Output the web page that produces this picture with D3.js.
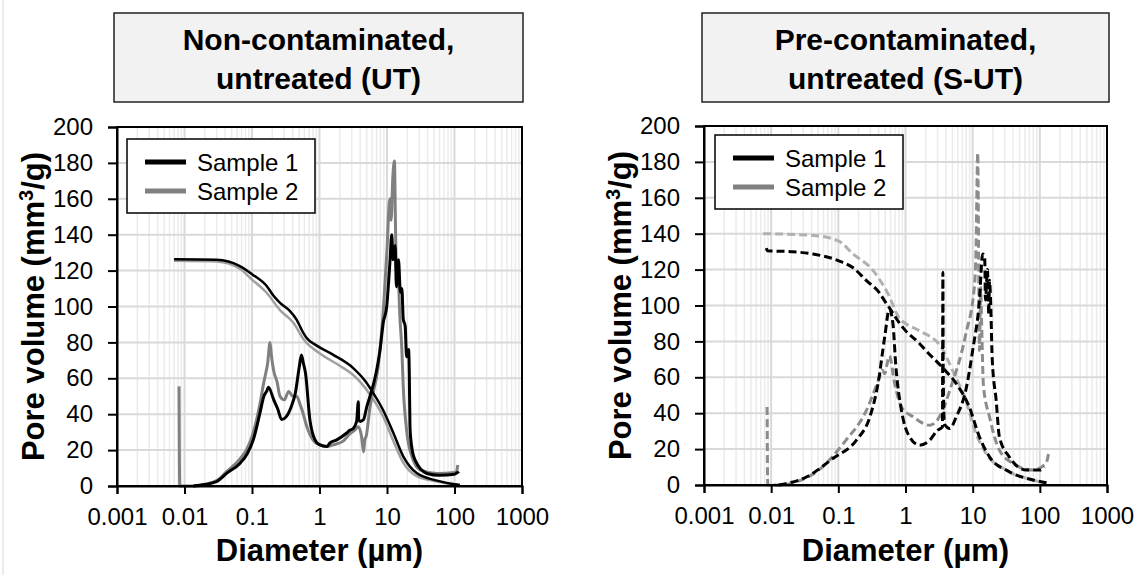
<!DOCTYPE html>
<html lang="en">
<head>
  <meta charset="UTF-8" />
  <title>Pore volume vs diameter</title>
  <script src="https://d3js.org/d3.v7.min.js"></script>
  <style>
    body { margin: 0; background: #fff; }
    svg { display: block; font-family: 'Liberation Sans', Arial, sans-serif; }
    .tick text { font-size: 24px; fill: #000; }
  </style>
</head>
<body>
<script>
  // axis ticks
  const xTicks = [0.001, 0.01, 0.1, 1, 10, 100, 1000];
  const xTickLabels = ["0.001", "0.01", "0.1", "1", "10", "100", "1000"];
  const yTicks = [0, 20, 40, 60, 80, 100, 120, 140, 160, 180, 200];
  const seriesNames = ["Sample 1", "Sample 2"];

  // Non-contaminated, untreated (UT): [diameter µm, pore volume mm3/g]
  const utCum1 = [[0.007,126.3],[0.03,126],[0.066,122.5],[0.1,118],[0.166,111.3],[0.21,105.8],[0.26,102],[0.366,97.4],[0.457,92.7],[0.575,85.3],[0.645,82.5],[0.91,78.2],[1.58,73.2],[3.16,65.7],[5.0,57.4],[5.6,54.6],[8.7,42.5],[12.3,30],[17.4,16.5],[27.5,7.2],[55,3],[120,0.5]];
  const utCum2 = [[0.007,125.5],[0.03,125],[0.066,121],[0.1,115],[0.166,107.5],[0.26,98],[0.41,91],[0.6,81],[1.0,74],[2.0,67],[3.0,62.5],[4.0,58],[5.6,51],[8.7,39],[12.3,25.5],[17.4,13],[27.5,5.5],[55,2.5],[120,0.5]];
  const utDiff1 = [[0.0135,0],[0.02,0.8],[0.03,2.5],[0.042,7],[0.066,12.6],[0.085,18],[0.105,26],[0.13,40],[0.15,50],[0.166,53],[0.175,55],[0.21,48],[0.24,43],[0.275,37],[0.32,38.5],[0.38,44],[0.44,52],[0.5,66],[0.54,73],[0.58,68],[0.62,63],[0.72,37],[0.85,26],[1.0,23],[1.28,22],[1.43,24],[1.8,25.7],[2.5,29.4],[2.8,31],[3.16,32],[3.55,36],[3.76,47],[3.8,37],[4.0,36],[4.5,37],[5.0,44],[5.6,50],[6.8,62],[7.9,76],[8.8,91],[9.9,100],[11.1,126],[11.75,140],[12.3,126],[13.2,134],[13.8,111],[14.8,126],[15.8,108],[16.6,110],[17.4,93],[18.6,89],[19.5,72],[20.9,76],[21.4,63],[21.9,33],[23.2,22],[26,14.5],[39,7],[60,6],[100,6.5],[112,7.5],[115,7]];
  const utDiff2 = [[0.0083,55.5],[0.0085,0],[0.015,0],[0.02,1],[0.03,3],[0.042,8],[0.066,15],[0.085,21],[0.105,30],[0.13,45],[0.15,58],[0.158,62],[0.17,68],[0.185,80],[0.195,72],[0.21,64],[0.235,58],[0.26,50],[0.3,48],[0.35,52.7],[0.4,50],[0.46,50],[0.52,45],[0.55,42.5],[0.65,33],[0.8,25.7],[1.0,23],[1.3,22],[1.6,23],[2.24,25],[2.8,29],[3.3,31],[3.76,33],[4.2,27.5],[4.5,19],[4.7,26],[4.9,27.5],[5.6,44],[7.4,66.6],[8.9,100],[10,132],[11,160],[11.5,148],[12.2,172],[12.9,181],[13.3,150],[13.8,119],[14.3,125],[15.5,94.6],[16.6,76],[17.4,55.5],[19.5,31.3],[23.4,16.4],[30.9,9],[55,7],[100,7.5],[107,8],[112,11.7]];

  // Pre-contaminated, untreated (S-UT)
  const sutCum1 = [[0.0085,132],[0.0088,130.5],[0.02,130],[0.042,128.7],[0.1,125],[0.166,121],[0.26,114],[0.41,107],[0.5,102],[0.58,98.5],[0.82,90],[1.0,86],[1.6,79],[2.0,75],[3.6,65.2],[5.7,56.5],[8.9,43.5],[12.6,26.8],[17.8,15.7],[35,7.4],[79,2.8],[138,1]];
  const sutCum2 = [[0.0076,140],[0.042,139],[0.1,136],[0.166,128.7],[0.33,119.4],[0.55,106.5],[0.82,92.6],[1.0,90],[1.6,86],[3.4,76.8],[5.0,64],[7.9,47],[11.2,28.7],[15.8,17.6],[31.6,8.3],[79,2.8],[123,1]];
  const sutDiff1 = [[0.013,0],[0.034,4.6],[0.083,14.8],[0.186,25],[0.295,38],[0.39,56.5],[0.49,82.4],[0.575,98],[0.65,89.8],[0.72,65.7],[0.87,41.7],[1.15,26.8],[1.62,22.2],[2.3,25],[3.0,30.5],[3.55,32.4],[3.6,118.5],[3.65,60],[3.8,34],[4.57,31.5],[5.7,38],[7.9,52.8],[10,75],[12.6,102.8],[14.1,128.7],[15.1,126.8],[15.5,103],[16.6,120],[17.4,95],[17.8,114],[18.6,100],[19.5,71],[22.4,47],[25,26.8],[35,15.7],[63,8.3],[100,8.3],[117,10]];
  const sutDiff2 = [[0.0087,43.5],[0.0089,0],[0.015,0],[0.02,1],[0.05,8],[0.13,25],[0.25,40],[0.41,60],[0.45,64],[0.49,62],[0.53,67],[0.575,72],[0.69,56.5],[0.87,43.5],[1.29,38],[2.3,33.3],[3.6,41.7],[4.57,52.8],[7.9,84],[10.7,112],[11.2,130],[11.9,185],[12.3,120],[12.6,75],[13.2,110],[13.5,95],[14.5,55],[17.8,38],[25,19.4],[40,12],[79,8.3],[123,12],[138,19.4]];

  const W = 1142, H = 575;
  const svg = d3.select("body").append("svg").attr("width", W).attr("height", H);

  // thin page edge line on the left
  svg.append("line").attr("x1", 3).attr("x2", 3).attr("y1", 0).attr("y2", H)
    .attr("stroke", "#d9d9d9").attr("stroke-width", 1);

  const panels = [
    { x0: 117, x1: 522, yTop: 127, yBot: 486, title: ["Non-contaminated,", "untreated (UT)"],
      box: [114, 523], legend: [127, 139], dash: null,
      lines: [
        { data: utCum2, color: "#a0a0a0", w: 2.5 },
        { data: utDiff2, color: "#808080", w: 3 },
        { data: utCum1, color: "#000", w: 2.5 },
        { data: utDiff1, color: "#000", w: 3 }
      ] },
    { x0: 704, x1: 1107, yTop: 126, yBot: 485, title: ["Pre-contaminated,", "untreated (S-UT)"],
      box: [702, 1109], legend: [715, 135], dash: "8,4",
      lines: [
        { data: sutCum2, color: "#b0b0b0", w: 3 },
        { data: sutDiff2, color: "#8c8c8c", w: 3 },
        { data: sutCum1, color: "#000", w: 3 },
        { data: sutDiff1, color: "#000", w: 3 }
      ] }
  ];

  panels.forEach(p => {
    const x = d3.scaleLog().domain([0.001, 1000]).range([p.x0, p.x1]);
    const y = d3.scaleLinear().domain([0, 200]).range([p.yBot, p.yTop]);
    const g = svg.append("g");

    // title box
    g.append("rect").attr("x", p.box[0]).attr("y", 13)
      .attr("width", p.box[1] - p.box[0]).attr("height", 89)
      .attr("fill", "#f2f2f2").attr("stroke", "#222").attr("stroke-width", 1.5);
    p.title.forEach((t, i) => {
      g.append("text").attr("x", (p.box[0] + p.box[1]) / 2).attr("y", 50 + i * 39)
        .attr("text-anchor", "middle").attr("font-size", 30).attr("font-weight", "bold")
        .text(t);
    });

    // minor vertical grid
    const minor = [];
    xTicks.slice(0, -1).forEach(d => { for (let k = 2; k <= 9; k++) minor.push(d * k); });
    g.selectAll(".minor").data(minor).enter().append("line")
      .attr("x1", d => x(d)).attr("x2", d => x(d)).attr("y1", p.yTop).attr("y2", p.yBot)
      .attr("stroke", "#ebebeb").attr("stroke-width", 1.5);
    g.selectAll(".majx").data(xTicks).enter().append("line")
      .attr("x1", d => x(d)).attr("x2", d => x(d)).attr("y1", p.yTop).attr("y2", p.yBot)
      .attr("stroke", "#d9d9d9").attr("stroke-width", 2);
    g.selectAll(".majy").data(yTicks).enter().append("line")
      .attr("x1", p.x0).attr("x2", p.x1).attr("y1", d => y(d)).attr("y2", d => y(d))
      .attr("stroke", "#d9d9d9").attr("stroke-width", 2);

    // series
    const line = d3.line().x(d => x(d[0])).y(d => y(d[1])).curve(d3.curveMonotoneX);
    p.lines.forEach(s => {
      g.append("path").datum(s.data).attr("d", line)
        .attr("fill", "none").attr("stroke", s.color).attr("stroke-width", s.w)
        .attr("stroke-linejoin", "round")
        .attr("stroke-dasharray", p.dash);
    });

    // frame
    g.append("rect").attr("x", p.x0).attr("y", p.yTop)
      .attr("width", p.x1 - p.x0).attr("height", p.yBot - p.yTop)
      .attr("fill", "none").attr("stroke", "#000").attr("stroke-width", 2);

    // axes
    const xAxis = d3.axisBottom(x).tickValues(xTicks)
      .tickFormat((d, i) => xTickLabels[i]).tickSize(8).tickPadding(14);
    g.append("g").attr("transform", `translate(0,${p.yBot})`).call(xAxis)
      .call(a => a.select(".domain").attr("stroke-width", 2))
      .call(a => a.selectAll(".tick line").attr("stroke-width", 2));
    const yAxis = d3.axisLeft(y).tickValues(yTicks).tickSize(9).tickPadding(15);
    g.append("g").attr("transform", `translate(${p.x0},0)`).call(yAxis)
      .call(a => a.select(".domain").attr("stroke-width", 2))
      .call(a => a.selectAll(".tick line").attr("stroke-width", 2));
    svg.selectAll("g.tick text").attr("font-family", "'Liberation Sans', Arial, sans-serif");

    // axis titles
    g.append("text").attr("x", (p.x0 + p.x1) / 2).attr("y", 561)
      .attr("text-anchor", "middle").attr("font-size", 31).attr("font-weight", "bold")
      .text("Diameter (µm)");
    const yt = g.append("text")
      .attr("transform", `translate(${p.x0 - 73},${(p.yTop + p.yBot) / 2}) rotate(-90)`)
      .attr("text-anchor", "middle").attr("font-size", 31).attr("font-weight", "bold");
    yt.append("tspan").text("Pore volume (mm");
    yt.append("tspan").attr("font-size", 20).attr("dy", -11).text("3");
    yt.append("tspan").attr("dy", 11).text("/g)");

    // legend
    const [lx, ly] = p.legend;
    g.append("rect").attr("x", lx).attr("y", ly).attr("width", 188).attr("height", 74)
      .attr("fill", "#fff").attr("stroke", "#000").attr("stroke-width", 1.5);
    seriesNames.forEach((n, i) => {
      const yy = ly + 23 + i * 29;
      g.append("line").attr("x1", lx + 18).attr("x2", lx + 59).attr("y1", yy).attr("y2", yy)
        .attr("stroke", i === 0 ? "#000" : "#808080").attr("stroke-width", 5);
      g.append("text").attr("x", lx + 70).attr("y", yy + 8.5)
        .attr("font-size", 24).text(n);
    });
  });
</script>
</body>
</html>
